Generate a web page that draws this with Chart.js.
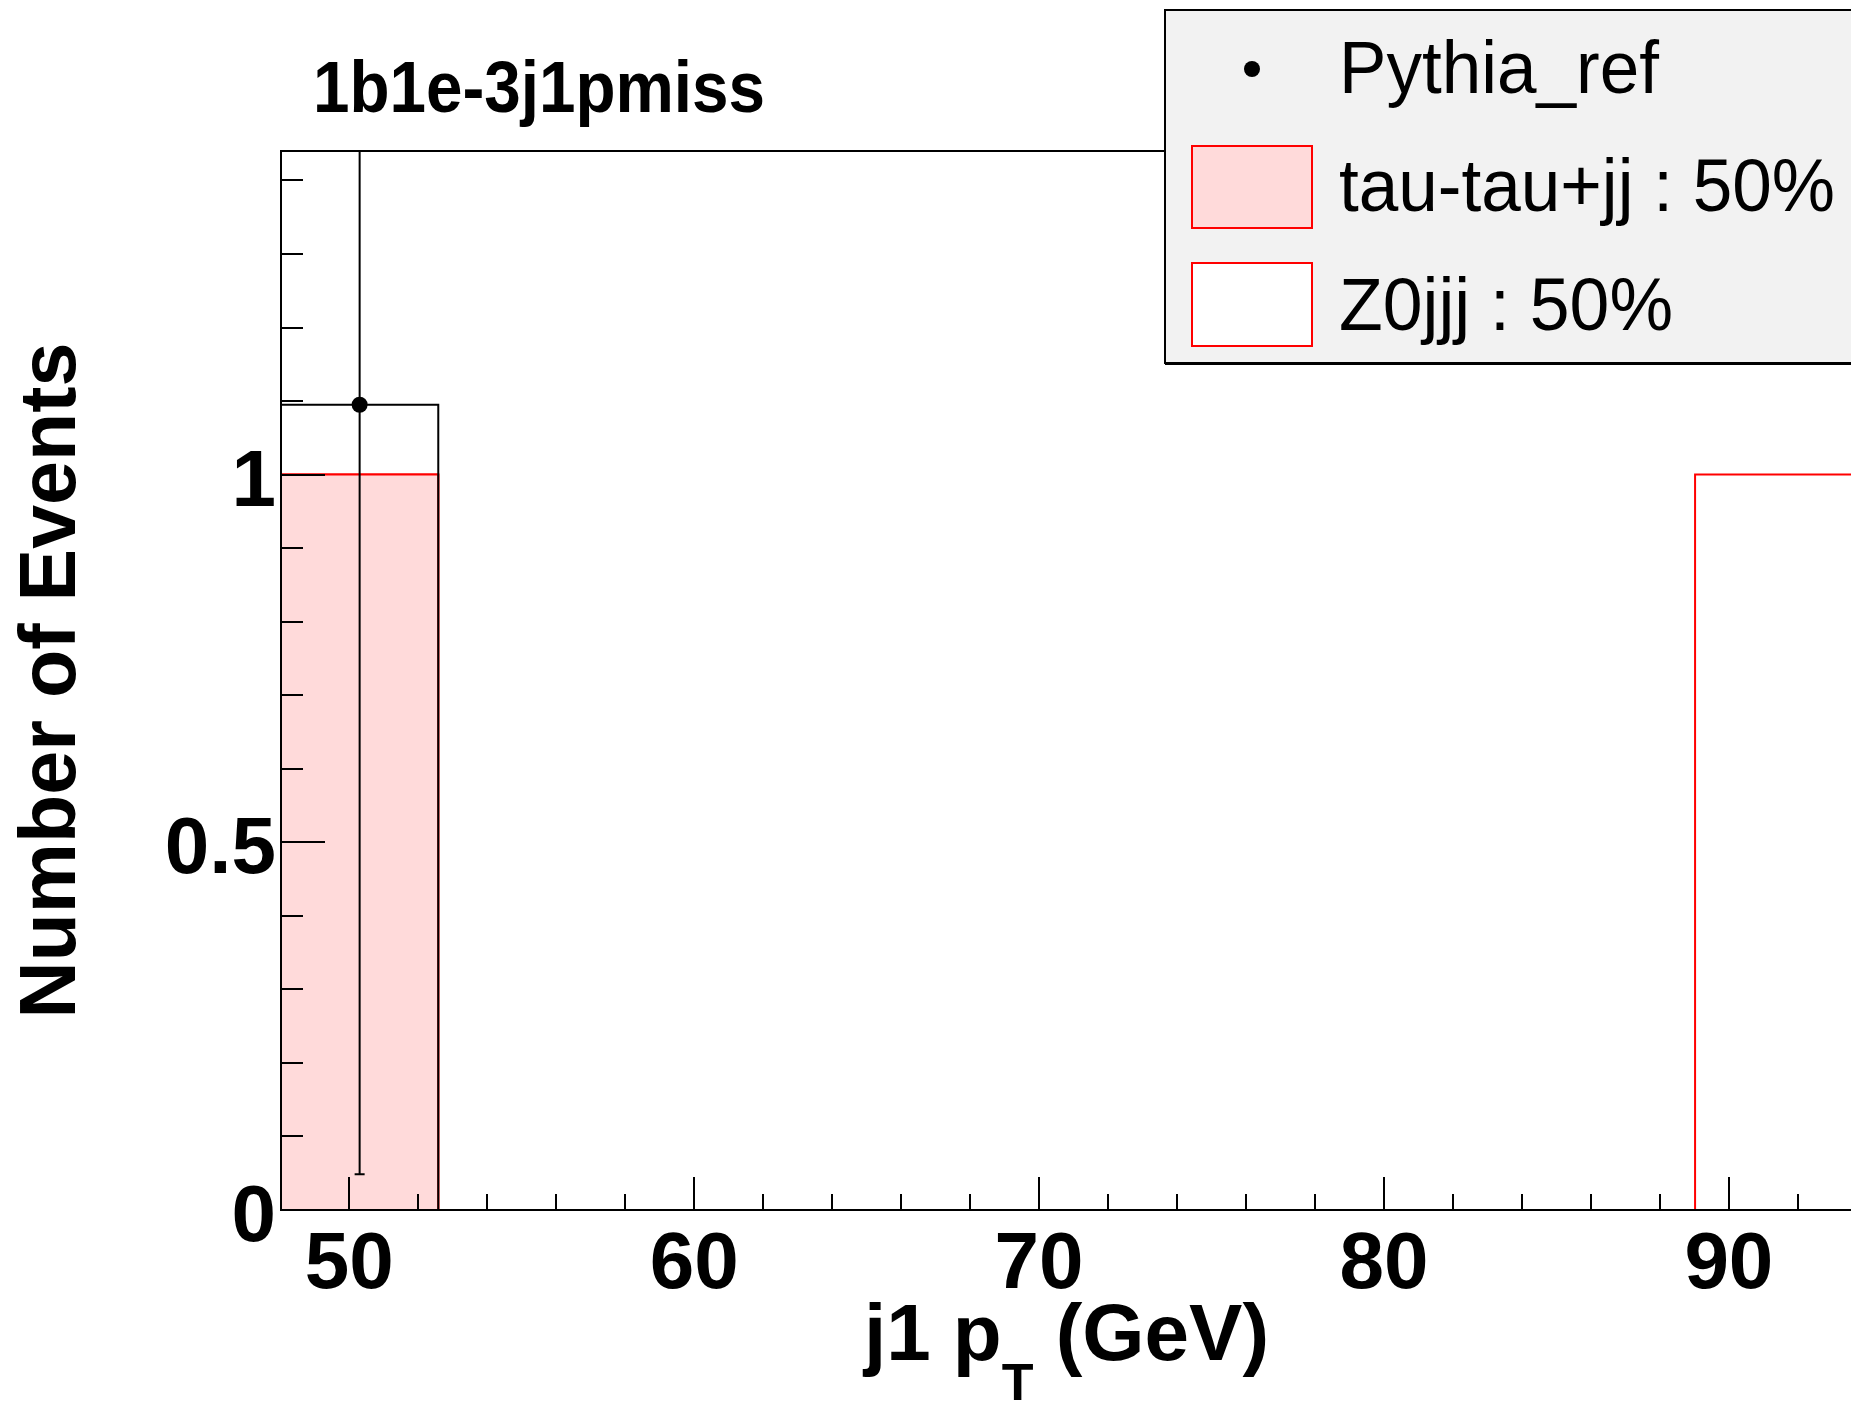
<!DOCTYPE html>
<html>
<head>
<meta charset="utf-8">
<script src="https://cdn.jsdelivr.net/npm/chart.js@4"></script>
<style>
html, body { margin: 0; padding: 0; overflow: hidden; background: #fff; }
canvas { display: block; }
</style>
</head>
<body>
<canvas id="hist" width="1860" height="1402"></canvas>
<script>
// histogram bins (j1 pT in GeV) and contents
var binEdges = [48.02, 52.58, 57.13, 61.69, 66.24, 70.80, 75.35, 79.91, 84.46, 89.02, 93.57];
var tauTauJJ = [1, 0, 0, 0, 0, 0, 0, 0, 0, 0];
var z0jjj = [0, 0, 0, 0, 0, 0, 0, 0, 0, 1];
var pythiaRef = [1.095, 0, 0, 0, 0, 0, 0, 0, 0, 0];
var xTickLabels = [50, 60, 70, 80, 90];
var yTickLabels = [0, 0.5, 1];
var legendLabels = ["Pythia_ref", "tau-tau+jj : 50%", "Z0jjj : 50%"];
var yMax = 1.44;

var FONT = "'Liberation Sans', Arial, Helvetica, sans-serif";
var PINK = "#ffdada";

function steps(vals) {
    var pts = vals.map(function (v, i) { return { x: binEdges[i], y: v }; });
    pts.push({ x: binEdges[vals.length], y: vals[vals.length - 1] });
    return pts;
}

// stack: Z0jjj drawn on top of tau-tau+jj
var stackTotal = tauTauJJ.map(function (v, i) { return v + z0jjj[i]; });

var pythiaPoints = [];
pythiaRef.forEach(function (v, i) {
    if (v > 0) pythiaPoints.push({ x: (binEdges[i] + binEdges[i + 1]) / 2, y: v });
});

// text squeezed to a given width (ROOT fonts come out narrow and tall)
function narrowText(ctx, str, x, y, width) {
    var w = ctx.measureText(str).width;
    ctx.save();
    ctx.translate(x, y);
    ctx.scale(width / w, 1);
    ctx.fillText(str, 0, 0);
    ctx.restore();
}

var rootStyle = {
    id: "rootStyle",
    afterDatasetsDraw: function (chart) {
        var ctx = chart.ctx, a = chart.chartArea;
        var xs = chart.scales.x, ys = chart.scales.y;
        ctx.save();
        ctx.beginPath();
        ctx.rect(a.left, a.top, a.right - a.left, a.bottom - a.top);
        ctx.clip();
        ctx.strokeStyle = "#000";
        ctx.lineWidth = 2;
        pythiaPoints.forEach(function (p) {
            var err = Math.sqrt(p.y);
            var px = xs.getPixelForValue(p.x);
            var lo = ys.getPixelForValue(p.y - err);
            var hi = ys.getPixelForValue(p.y + err);
            ctx.beginPath();
            ctx.moveTo(px, lo);
            ctx.lineTo(px, hi);
            ctx.moveTo(px - 5, lo);
            ctx.lineTo(px + 5, lo);
            ctx.stroke();
        });
        ctx.restore();
    },
    afterDraw: function (chart) {
        var ctx = chart.ctx, a = chart.chartArea;
        var xs = chart.scales.x, ys = chart.scales.y;
        ctx.save();
        ctx.strokeStyle = "#000";
        ctx.lineWidth = 2;

        // frame
        ctx.beginPath();
        ctx.moveTo(a.right, a.top);
        ctx.lineTo(a.left, a.top);
        ctx.lineTo(a.left, a.bottom);
        ctx.lineTo(a.right, a.bottom);
        ctx.stroke();

        // inner ticks, y
        ctx.beginPath();
        for (var k = 0; k <= 14; k++) {
            var v = k / 10;
            var py = Math.round(ys.getPixelForValue(v));
            var len = (k % 5 === 0) ? 44 : 22;
            ctx.moveTo(a.left, py);
            ctx.lineTo(a.left + len, py);
        }
        // inner ticks, x
        for (var t = 50; t <= 92; t += 2) {
            var px = Math.round(xs.getPixelForValue(t));
            var tl = (t % 10 === 0) ? 33 : 16;
            ctx.moveTo(px, a.bottom);
            ctx.lineTo(px, a.bottom - tl);
        }
        ctx.stroke();

        // title
        ctx.fillStyle = "#000";
        ctx.textAlign = "left";
        ctx.textBaseline = "alphabetic";
        ctx.font = "bold 72px " + FONT;
        narrowText(ctx, "1b1e-3j1pmiss", 313, 112, 452);

        // y axis title
        ctx.save();
        ctx.translate(75, (a.top + a.bottom) / 2);
        ctx.rotate(-Math.PI / 2);
        ctx.textAlign = "center";
        ctx.font = "bold 79px " + FONT;
        ctx.fillText("Number of Events", 0, 0);
        ctx.restore();

        // x axis title with subscript
        var big = "bold 80px " + FONT, small = "bold 52px " + FONT;
        var s1 = "j1 p", s2 = "T", s3 = " (GeV)";
        ctx.font = big;
        var w1 = ctx.measureText(s1).width, w3 = ctx.measureText(s3).width;
        ctx.font = small;
        var w2 = ctx.measureText(s2).width;
        var x0 = (a.left + a.right) / 2 - (w1 + w2 + w3) / 2;
        var base = 1360;
        ctx.font = big;
        ctx.fillText(s1, x0, base);
        ctx.font = small;
        ctx.fillText(s2, x0 + w1, base + 40);
        ctx.font = big;
        ctx.fillText(s3, x0 + w1 + w2, base);

        // legend
        ctx.fillStyle = "#f2f2f2";
        ctx.fillRect(1165, 10, 720, 353);
        ctx.strokeRect(1165, 10, 720, 353);
        ctx.fillStyle = "#000";
        ctx.fillRect(1165, 362, 720, 3);
        ctx.beginPath();
        ctx.arc(1252, 69, 8, 0, Math.PI * 2);
        ctx.fill();
        ctx.fillStyle = PINK;
        ctx.fillRect(1192, 146, 120, 82);
        ctx.fillStyle = "#fff";
        ctx.fillRect(1192, 263, 120, 83);
        ctx.strokeStyle = "#ff0000";
        ctx.strokeRect(1192, 146, 120, 82);
        ctx.strokeRect(1192, 263, 120, 83);
        ctx.fillStyle = "#000";
        ctx.font = "74px " + FONT;
        narrowText(ctx, legendLabels[0], 1339, 93, 320);
        narrowText(ctx, legendLabels[1], 1339, 211, 496);
        narrowText(ctx, legendLabels[2], 1339, 330, 334);
        ctx.restore();
    }
};

var chart = new Chart(document.getElementById("hist").getContext("2d"), {
    type: "line",
    data: {
        datasets: [
            {
                type: "scatter",
                label: legendLabels[0],
                data: pythiaPoints,
                pointRadius: 8,
                pointBackgroundColor: "#000",
                pointBorderWidth: 0,
                showLine: false,
            },
            {
                label: "Pythia_ref hist",
                data: steps(pythiaRef),
                stepped: true,
                borderColor: "#000",
                borderWidth: 2,
                pointRadius: 0,
                fill: false,
            },
            {
                label: legendLabels[1],
                data: steps(tauTauJJ),
                stepped: true,
                borderColor: "#ff0000",
                borderWidth: 2,
                backgroundColor: PINK,
                pointRadius: 0,
                fill: "origin",
            },
            {
                label: legendLabels[2],
                data: steps(stackTotal),
                stepped: true,
                borderColor: "#ff0000",
                borderWidth: 2,
                backgroundColor: "#ffffff",
                pointRadius: 0,
                fill: "origin",
            },
        ],
    },
    options: {
        responsive: false,
        animation: false,
        devicePixelRatio: 1,
        layout: { padding: { top: 151, right: 5, left: 0, bottom: 0 } },
        plugins: { legend: { display: false }, tooltip: { enabled: false } },
        scales: {
            x: {
                type: "linear",
                min: binEdges[0],
                max: binEdges[binEdges.length - 1],
                grid: { display: false },
                border: { display: false },
                afterBuildTicks: function (s) {
                    s.ticks = xTickLabels.map(function (v) { return { value: v }; });
                },
                afterFit: function (s) { s.height = 192; },
                ticks: {
                    color: "#000",
                    padding: 0,
                    maxRotation: 0,
                    font: { family: FONT, size: 80, weight: "bold" },
                    callback: function (v) { return String(v); },
                },
            },
            y: {
                min: 0,
                max: yMax,
                grid: { display: false },
                border: { display: false },
                afterBuildTicks: function (s) {
                    s.ticks = yTickLabels.map(function (v) { return { value: v }; });
                },
                afterFit: function (s) { s.width = 281; },
                ticks: {
                    color: "#000",
                    padding: -3,
                    labelOffset: 9,
                    font: { family: FONT, size: 80, weight: "bold" },
                    callback: function (v) { return String(v); },
                },
            },
        },
    },
    plugins: [rootStyle],
});
</script>
</body>
</html>
